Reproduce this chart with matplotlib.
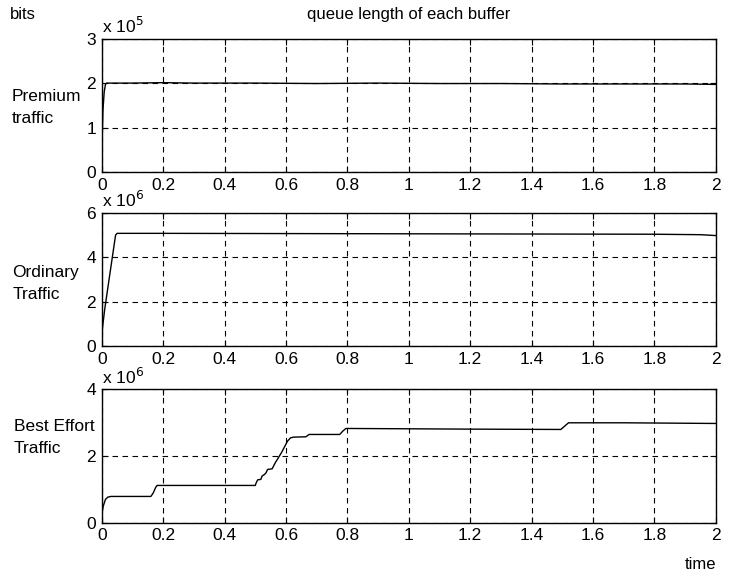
import matplotlib
matplotlib.use("Agg")
import matplotlib.pyplot as plt

plt.rcParams['font.family'] = ['Liberation Sans', 'DejaVu Sans']

# time axis limits and tick labels
x_ticks = [0, 0.2, 0.4, 0.6, 0.8, 1, 1.2, 1.4, 1.6, 1.8, 2]
x_labels = ['0', '0.2', '0.4', '0.6', '0.8', '1', '1.2', '1.4', '1.6', '1.8', '2']

# premium traffic buffer (bits)
t_premium = [0, 0.002, 0.004, 0.008, 0.012, 0.016, 0.1, 0.2, 0.3, 0.5, 0.7,
             0.9, 1.1, 1.3, 1.5, 1.7, 1.9, 2.0]
q_premium = [0.12e5, 0.9e5, 1.4e5, 1.8e5, 1.97e5, 2.0e5, 2.0e5, 2.01e5, 2.0e5,
             2.0e5, 1.99e5, 2.0e5, 1.99e5, 1.99e5, 1.98e5, 1.98e5, 1.98e5, 1.97e5]

# ordinary traffic buffer (bits)
t_ordinary = [0, 0.003, 0.01, 0.045, 0.05, 0.2, 0.6, 1.0, 1.4, 1.8, 1.95, 2.0]
q_ordinary = [0.42e6, 0.9e6, 1.7e6, 5.0e6, 5.08e6, 5.08e6, 5.07e6, 5.06e6,
              5.05e6, 5.04e6, 5.02e6, 4.98e6]

# best effort traffic buffer (bits)
t_best = [0, 0.005, 0.012, 0.02, 0.03, 0.16, 0.168, 0.175, 0.18, 0.5, 0.503,
          0.508, 0.518, 0.522, 0.53, 0.535, 0.54, 0.555, 0.565, 0.585, 0.605,
          0.615, 0.625, 0.665, 0.675, 0.775, 0.785, 0.795, 1.0, 1.2, 1.495,
          1.505, 1.52, 1.7, 2.0]
q_best = [0.25e6, 0.5e6, 0.7e6, 0.77e6, 0.79e6, 0.79e6, 0.9e6, 1.05e6, 1.12e6,
          1.12e6, 1.2e6, 1.29e6, 1.3e6, 1.4e6, 1.45e6, 1.5e6, 1.6e6, 1.62e6,
          1.8e6, 2.1e6, 2.45e6, 2.55e6, 2.57e6, 2.58e6, 2.65e6, 2.65e6, 2.75e6,
          2.83e6, 2.82e6, 2.81e6, 2.8e6, 2.88e6, 3.0e6, 3.0e6, 2.98e6]

panels = [
    (t_premium, q_premium, 3e5, [0, 1e5, 2e5, 3e5], ['0', '1', '2', '3'], '5', ['Premium', 'traffic'], 0.702),
    (t_ordinary, q_ordinary, 6e6, [0, 2e6, 4e6, 6e6], ['0', '2', '4', '6'], '6', ['Ordinary', 'Traffic'], 0.400),
    (t_best, q_best, 4e6, [0, 2e6, 4e6], ['0', '2', '4'], '6', ['Best Effort', 'Traffic'], 0.094),
]
# left edge and vertical centre of the first line of each side label
label_pos = [(0.016, 0.832), (0.017, 0.527), (0.019, 0.260)]
line_step = 0.038

fig = plt.figure(figsize=(7.32, 5.77), dpi=100)

for (t, q, ymax, yt, yl, exp, name, bottom), (lx, ly) in zip(panels, label_pos):
    ax = fig.add_axes([0.139, bottom, 0.839, 0.231])
    ax.plot(t, q, color='black', linewidth=1.0)
    ax.set_xlim(0, 2)
    ax.set_ylim(0, ymax)
    ax.set_xticks(x_ticks)
    ax.set_xticklabels(x_labels)
    ax.set_yticks(yt)
    ax.set_yticklabels(yl)
    ax.grid(True, color='black', linestyle=(0, (5, 4)), linewidth=0.8)
    ax.tick_params(direction='in', length=4, labelsize=12.5, pad=4,
                   top=True, right=True)
    for s in ax.spines.values():
        s.set_linewidth(1.0)
    ax.text(0.0, 1.02, r'x 10$^{%s}$' % exp, transform=ax.transAxes,
            fontsize=12.5, ha='left', va='bottom')
    for i, line in enumerate(name):
        fig.text(lx, ly - i * line_step, line, fontsize=12.5,
                 ha='left', va='center')

fig.text(0.014, 0.975, 'bits', fontsize=12, ha='left', va='center')
fig.text(0.558, 0.975, 'queue length of each buffer', fontsize=12,
         ha='center', va='center')
fig.text(0.978, 0.022, 'time', fontsize=12, ha='right', va='center')

fig.savefig('out.png', dpi=100)
